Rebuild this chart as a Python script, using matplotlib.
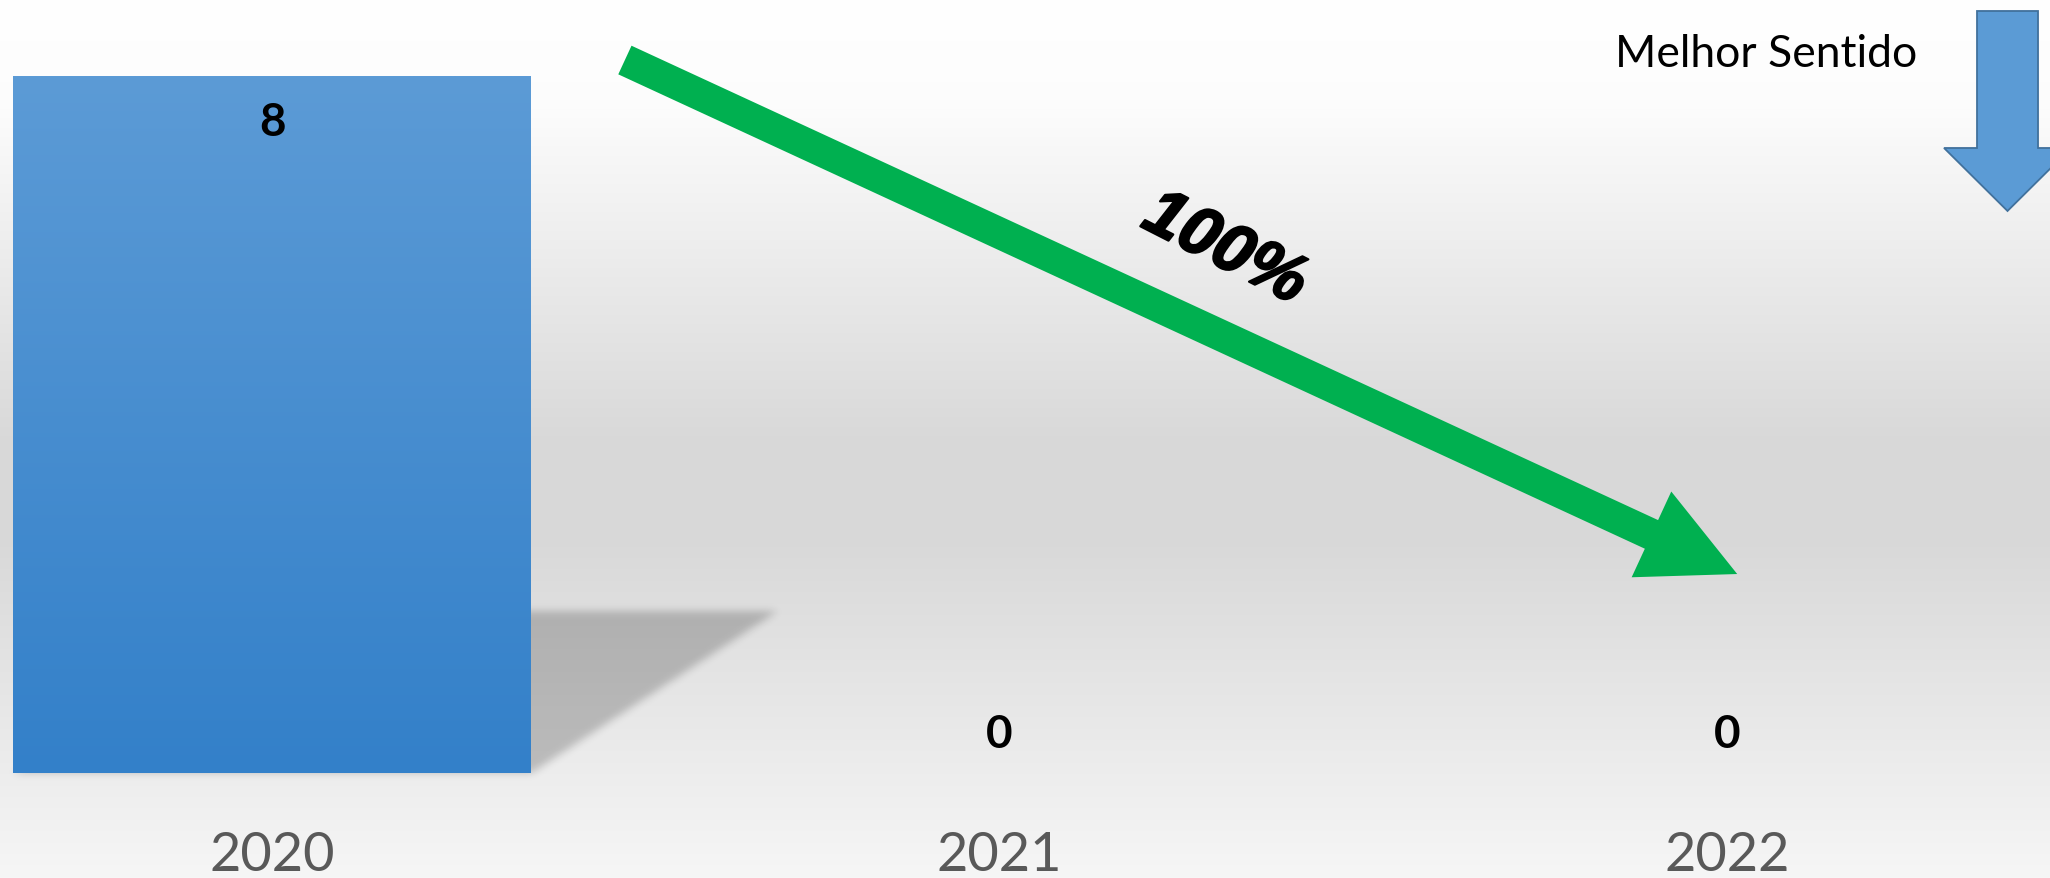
import numpy as np
import matplotlib
matplotlib.use("Agg")
import matplotlib.pyplot as plt
import matplotlib.patheffects as pe
from matplotlib.patches import FancyArrowPatch, Polygon, ArrowStyle
from matplotlib.path import Path
from matplotlib.colors import LinearSegmentedColormap

# ---------------- data ----------------
categories = ["2020", "2021", "2022"]
values = [8, 0, 0]
value_labels = ["8", "0", "0"]
change_label = "100%"
direction_label = "Melhor Sentido"

W, H = 2050, 878
fig = plt.figure(figsize=(20.5001, 8.7801), dpi=100)

# ---------------- background gradient ----------------
bg = fig.add_axes([0, 0, 1, 1], zorder=-10)
bg.set_xlim(0, W)
bg.set_ylim(0, H)
bg.axis("off")
stops_pos = [0.0, 0.12, 0.5, 0.62, 1.0]      # fraction from top
stops_val = [1.0, 0.99, 0.85, 0.85, 0.965]
yy = np.linspace(0, 1, H)
g = np.interp(yy, stops_pos, stops_val)
rgb = np.dstack([np.repeat(g[:, None], 2, axis=1)] * 3)
bg.imshow(rgb, extent=[0, W, 0, H], origin="upper", aspect="auto",
          interpolation="bilinear", zorder=0)

# ---------------- main axes ----------------
ax = fig.add_axes([0, 105 / H, 1, 773 / H])
ax.set_facecolor("none")
x = np.arange(len(categories))
bars = ax.bar(x, values, width=0.711, color="none", edgecolor="none", zorder=3)

cmap = LinearSegmentedColormap.from_list("bluegrad", ["#3380c9", "#5c9bd6"])
for b in bars:
    h = b.get_height()
    if h <= 0:
        continue
    x0 = b.get_x()
    x1 = x0 + b.get_width()
    grad = np.linspace(0, 1, 256)[:, None]
    ax.imshow(grad, extent=[x0, x1, 0, h], origin="lower", cmap=cmap,
              aspect="auto", zorder=3, interpolation="bilinear")

ax.set_xlim(-0.374, 2.444)
ax.set_ylim(0, 8.885)

for s in ax.spines.values():
    s.set_visible(False)
ax.set_yticks([])
ax.set_xticks(x, categories)
ax.tick_params(axis="x", length=0, pad=42, labelsize=39, labelcolor="#595959")
for lab in ax.get_xticklabels():
    lab.set_family("Lato")

# value labels
for i, (v, lab) in enumerate(zip(values, value_labels)):
    off = -59 if v > 0 else 25
    ax.annotate(lab, (x[i], v), xytext=(0, off), textcoords="offset pixels",
                ha="center", va="baseline", fontsize=33, fontweight="bold",
                family="Lato", color="black", zorder=6)

# ---------------- perspective shadow (blurred) ----------------
skew_dx, shadow_h = 0.338, 1.85
for b in bars:
    h = b.get_height()
    if h <= 0:
        continue
    x0 = b.get_x()
    x1 = x0 + b.get_width()
    poly_data = np.array([(x0, 0), (x1, 0), (x1 + skew_dx, shadow_h),
                          (x0 + skew_dx, shadow_h)])
    pix = ax.transData.transform(poly_data)
    m = 25
    xmin, xmax = int(pix[:, 0].min()) - m, int(pix[:, 0].max()) + m
    ymin, ymax = int(pix[:, 1].min()) - m, int(pix[:, 1].max()) + m
    gx, gy = np.meshgrid(np.arange(xmin, xmax) + 0.5, np.arange(ymin, ymax) + 0.5)
    path = Path(pix)
    mask = path.contains_points(np.c_[gx.ravel(), gy.ravel()]).reshape(gx.shape).astype(float)
    sig = 4.0
    kx = np.arange(-12, 13)
    ker = np.exp(-kx ** 2 / (2 * sig ** 2))
    ker /= ker.sum()
    mask = np.apply_along_axis(lambda r: np.convolve(r, ker, mode="same"), 1, mask)
    mask = np.apply_along_axis(lambda c: np.convolve(c, ker, mode="same"), 0, mask)
    rgba = np.zeros(mask.shape + (4,))
    rgba[..., 3] = mask * 0.21
    bg.imshow(rgba, extent=[xmin, xmax, ymin, ymax], origin="lower",
              aspect="auto", zorder=1, interpolation="bilinear")
bg.set_xlim(0, W)
bg.set_ylim(0, H)

# ---------------- green trend arrow ----------------
arrow_tail = (0.485, 8.195)
arrow_tip = (2.014, 2.287)
style = ArrowStyle.Simple(head_length=68, head_width=68, tail_width=22.7)
arr = FancyArrowPatch(arrow_tail, arrow_tip, arrowstyle=style, mutation_scale=1,
                      color="#00b050", shrinkA=0, shrinkB=0, zorder=5, lw=0)
ax.add_patch(arr)

t = ax.text(1.31, 6.02, change_label, rotation=-27, rotation_mode="anchor",
            ha="center", va="center", fontsize=49, fontweight="bold",
            fontstyle="italic", family="Liberation Sans", color="black", zorder=6)
t.set_path_effects([pe.withStroke(linewidth=1.6, foreground="black")])

# ---------------- "better direction" indicator ----------------
down_pts = [(1977, 11), (2038, 11), (2038, 148), (2071, 148), (2007.5, 211),
            (1944, 148), (1977, 148)]
poly = Polygon([(px / W, 1 - py / H) for px, py in down_pts], closed=True,
               transform=fig.transFigure, facecolor="#5b9bd5",
               edgecolor="#41719c", lw=1.3, zorder=10)
fig.add_artist(poly)
fig.text(1917 / W, 1 - 67 / H, direction_label, ha="right", va="baseline",
         fontsize=32, family="Lato", color="black")

fig.savefig("out.png", dpi=100)
